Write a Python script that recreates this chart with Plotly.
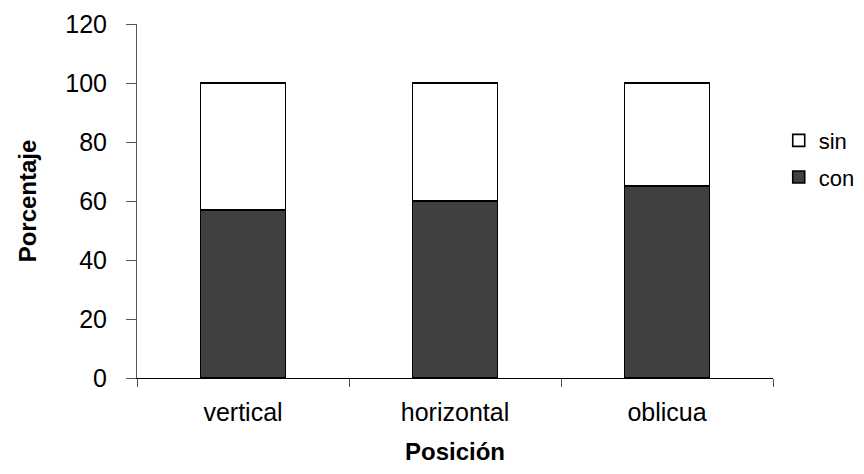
import plotly.graph_objects as go

categories = ["vertical", "horizontal", "oblicua"]
con_values = [57, 60, 65]
sin_values = [43, 40, 35]
y_ticks = [0, 20, 40, 60, 80, 100, 120]
x_title = "Posición"
y_title = "Porcentaje"

fig = go.Figure()
fig.add_trace(go.Bar(
    x=categories, y=con_values, name="con", legendgroup="con", legendrank=2,
    marker=dict(color="#404040", line=dict(color="#000000", width=1.6)),
))
fig.add_trace(go.Bar(
    x=categories, y=sin_values, name="sin", legendgroup="sin", legendrank=1,
    marker=dict(color="#ffffff", line=dict(color="#000000", width=1.6)),
))

font_family = "Liberation Sans, Arial, sans-serif"

# page body has an 8px margin, so the figure is sized to fit the 864x474 window
fig.update_layout(
    barmode="stack",
    bargap=0.6,
    width=848, height=458,
    margin=dict(l=129, r=83, t=16, b=88, autoexpand=False),
    paper_bgcolor="white", plot_bgcolor="white",
    font=dict(family=font_family, color="black"),
    legend=dict(
        x=1.009, y=0.73, xanchor="left", yanchor="top",
        traceorder="grouped", tracegroupgap=5,
        font=dict(size=22, family=font_family),
        itemwidth=30,
    ),
    showlegend=True,
)
fig.add_annotation(
    text=f"<b>{x_title}</b>", xref="paper", yref="paper", x=0.5, y=-0.208,
    xanchor="center", yanchor="middle", showarrow=False,
    font=dict(size=24, family=font_family, color="black"),
)
fig.update_xaxes(
    automargin=False,
    showline=True, linecolor="black", linewidth=1,
    ticks="outside", ticklen=8, tickcolor="#555555", tickson="boundaries",
    ticklabelstandoff=12,
    tickfont=dict(size=25, family=font_family),
    showgrid=False, zeroline=False,
)
fig.update_yaxes(
    automargin=False,
    range=[0, 120], tickvals=y_ticks,
    showline=True, linecolor="#555555", linewidth=1,
    ticks="outside", ticklen=10, tickcolor="#555555",
    ticklabelstandoff=14,
    tickfont=dict(size=25, family=font_family),
    title=dict(text=f"<b>{y_title}</b>", font=dict(size=24, family=font_family), standoff=21),
    showgrid=False, zeroline=False,
)

fig.write_html("out.html")
